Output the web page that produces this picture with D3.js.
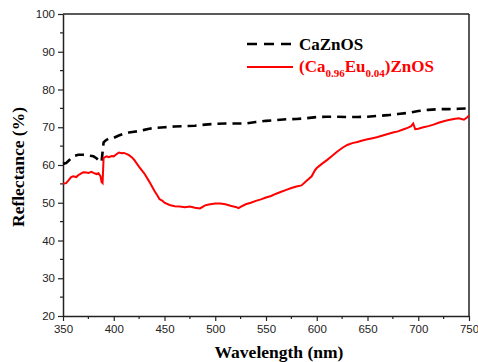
<!DOCTYPE html>
<html><head><meta charset="utf-8">
<script src="https://cdn.jsdelivr.net/npm/d3@7"></script>
<style>body{margin:0;background:#fff}svg{display:block}</style>
</head><body>
<svg id="c" width="478" height="362"></svg>
<script>
const xTicks = [350,400,450,500,550,600,650,700,750];
const yTicks = [20,30,40,50,60,70,80,90,100];
const seriesNames = ["CaZnOS","(Ca0.96Eu0.04)ZnOS"];

const blackWavelengths = [350,353,355,358,360,365,370,375,380,383,385,388,389,390,392,395,400,405,410,415,420,425,430,435,440,450,460,470,480,490,500,510,520,530,540,550,560,570,580,590,600,610,620,630,640,650,660,670,680,690,700,710,720,730,740,750];
const blackValues = [60.3,60.5,61.0,61.8,62.3,62.7,62.7,62.5,62.3,61.8,61.3,60.8,63.5,66.0,66.5,67.0,67.2,67.8,68.3,68.6,68.8,69.0,69.3,69.6,69.8,70.0,70.2,70.3,70.4,70.7,70.9,71.0,71.0,71.0,71.4,71.7,71.9,72.1,72.2,72.4,72.7,72.8,72.8,72.7,72.7,72.8,73.0,73.2,73.5,73.8,74.3,74.6,74.8,74.8,74.9,75.0];

const redWavelengths = [350,353,355,358,360,363,365,368,370,373,375,378,380,383,385,387,388,389,390,393,395,398,400,403,405,408,410,413,415,418,420,425,430,435,440,443,445,448,450,455,460,465,470,475,480,485,490,495,500,505,510,515,520,523,525,530,535,540,545,550,555,560,565,570,575,580,585,590,595,598,600,605,610,615,620,625,630,635,640,645,650,655,660,665,670,675,680,685,690,693,695,697,700,705,710,715,720,725,730,735,740,745,748,750];
const redValues = [55.0,55.2,55.8,56.8,57.0,56.8,57.3,57.8,58.1,58.0,57.9,58.2,57.9,57.6,57.8,57.0,55.5,55.2,61.9,62.3,62.1,62.4,62.3,62.9,63.3,63.1,63.2,62.9,62.6,62.0,61.4,59.5,57.8,55.6,53.2,51.9,51.0,50.5,50.0,49.4,49.1,49.0,48.8,49.0,48.7,48.5,49.3,49.6,49.8,49.8,49.6,49.2,48.9,48.6,48.9,49.6,50.0,50.5,50.9,51.4,51.8,52.4,52.9,53.4,53.9,54.3,54.6,55.8,57.0,58.5,59.2,60.3,61.3,62.4,63.5,64.5,65.3,65.8,66.1,66.5,66.8,67.1,67.4,67.8,68.2,68.6,68.9,69.4,69.9,70.3,71.0,69.5,69.6,70.0,70.3,70.7,71.2,71.6,71.9,72.2,72.4,72.0,72.6,73.1];

const svg = d3.select("#c");
const m = {l:63, t:14, r:469, b:316};
const x = d3.scaleLinear().domain([350,750]).range([m.l,m.r]);
const y = d3.scaleLinear().domain([20,100]).range([m.b,m.t]);
const axisColor = "#222";

// frame top & right
svg.append("line").attr("x1",m.l).attr("x2",m.r).attr("y1",m.t).attr("y2",m.t).attr("stroke",axisColor).attr("stroke-width",1.5);
svg.append("line").attr("x1",m.r).attr("x2",m.r).attr("y1",m.t).attr("y2",m.b).attr("stroke",axisColor).attr("stroke-width",1.5);

// minor ticks
const xMinor = d3.range(375,750,50);
const yMinor = d3.range(25,100,10);
svg.append("g").selectAll("line").data(xMinor).join("line")
  .attr("x1",d=>x(d)).attr("x2",d=>x(d)).attr("y1",m.b).attr("y2",m.b+3)
  .attr("stroke",axisColor).attr("stroke-width",1.2);
svg.append("g").selectAll("line").data(yMinor).join("line")
  .attr("y1",d=>y(d)).attr("y2",d=>y(d)).attr("x1",m.l).attr("x2",m.l-3)
  .attr("stroke",axisColor).attr("stroke-width",1.2);

const xAxis = svg.append("g").attr("transform",`translate(0,${m.b})`)
  .call(d3.axisBottom(x).tickValues(xTicks).tickSize(5).tickSizeOuter(0).tickPadding(4).tickFormat(d3.format("d")));
const yAxis = svg.append("g").attr("transform",`translate(${m.l},0)`)
  .call(d3.axisLeft(y).tickValues(yTicks).tickSize(5).tickSizeOuter(0).tickPadding(3).tickFormat(d3.format("d")));
[xAxis,yAxis].forEach(a=>{
  a.selectAll("path").attr("stroke",axisColor).attr("stroke-width",1.5);
  a.selectAll("line").attr("stroke",axisColor).attr("stroke-width",1.2);
  a.selectAll("text").attr("font-family","'Liberation Sans', Arial, sans-serif").attr("font-size",11.5).attr("fill","#222");
});

// curves
const line = d3.line().x(d=>x(d[0])).y(d=>y(d[1]));
const blackData = blackWavelengths.map((w,i)=>[w,blackValues[i]]);
const redData = redWavelengths.map((w,i)=>[w,redValues[i]]);
svg.append("path").datum(blackData).attr("d",line).attr("fill","none")
  .attr("stroke","#000").attr("stroke-width",2.6).attr("stroke-dasharray","9,6");
svg.append("path").datum(redData).attr("d",line).attr("fill","none")
  .attr("stroke","#ff0000").attr("stroke-width",2);

// axis titles
const serif = "'Liberation Serif', 'Times New Roman', serif";
svg.append("text").attr("x",279).attr("y",358).attr("text-anchor","middle")
  .attr("font-family",serif).attr("font-weight","bold").attr("font-size",17.5).text("Wavelength (nm)");
svg.append("text").attr("transform","translate(24,167) rotate(-90)").attr("text-anchor","middle")
  .attr("font-family",serif).attr("font-weight","bold").attr("font-size",17.5).text("Reflectance (%)");

// legend
svg.append("line").attr("x1",247).attr("x2",293).attr("y1",44).attr("y2",44)
  .attr("stroke","#000").attr("stroke-width",2.6).attr("stroke-dasharray","10,7");
svg.append("text").attr("x",299).attr("y",50).attr("font-family",serif).attr("font-weight","bold")
  .attr("font-size",17).attr("fill","#000").text(seriesNames[0]);
svg.append("line").attr("x1",247).attr("x2",293).attr("y1",67).attr("y2",67)
  .attr("stroke","#ff0000").attr("stroke-width",2);
const t2 = svg.append("text").attr("x",299).attr("y",72).attr("font-family",serif).attr("font-weight","bold")
  .attr("font-size",17).attr("fill","#ff0000");
t2.append("tspan").text("(Ca");
t2.append("tspan").attr("font-size",11).attr("dy",5).text("0.96");
t2.append("tspan").attr("dy",-5).text("Eu");
t2.append("tspan").attr("font-size",11).attr("dy",5).text("0.04");
t2.append("tspan").attr("dy",-5).text(")ZnOS");
</script>
</body></html>
